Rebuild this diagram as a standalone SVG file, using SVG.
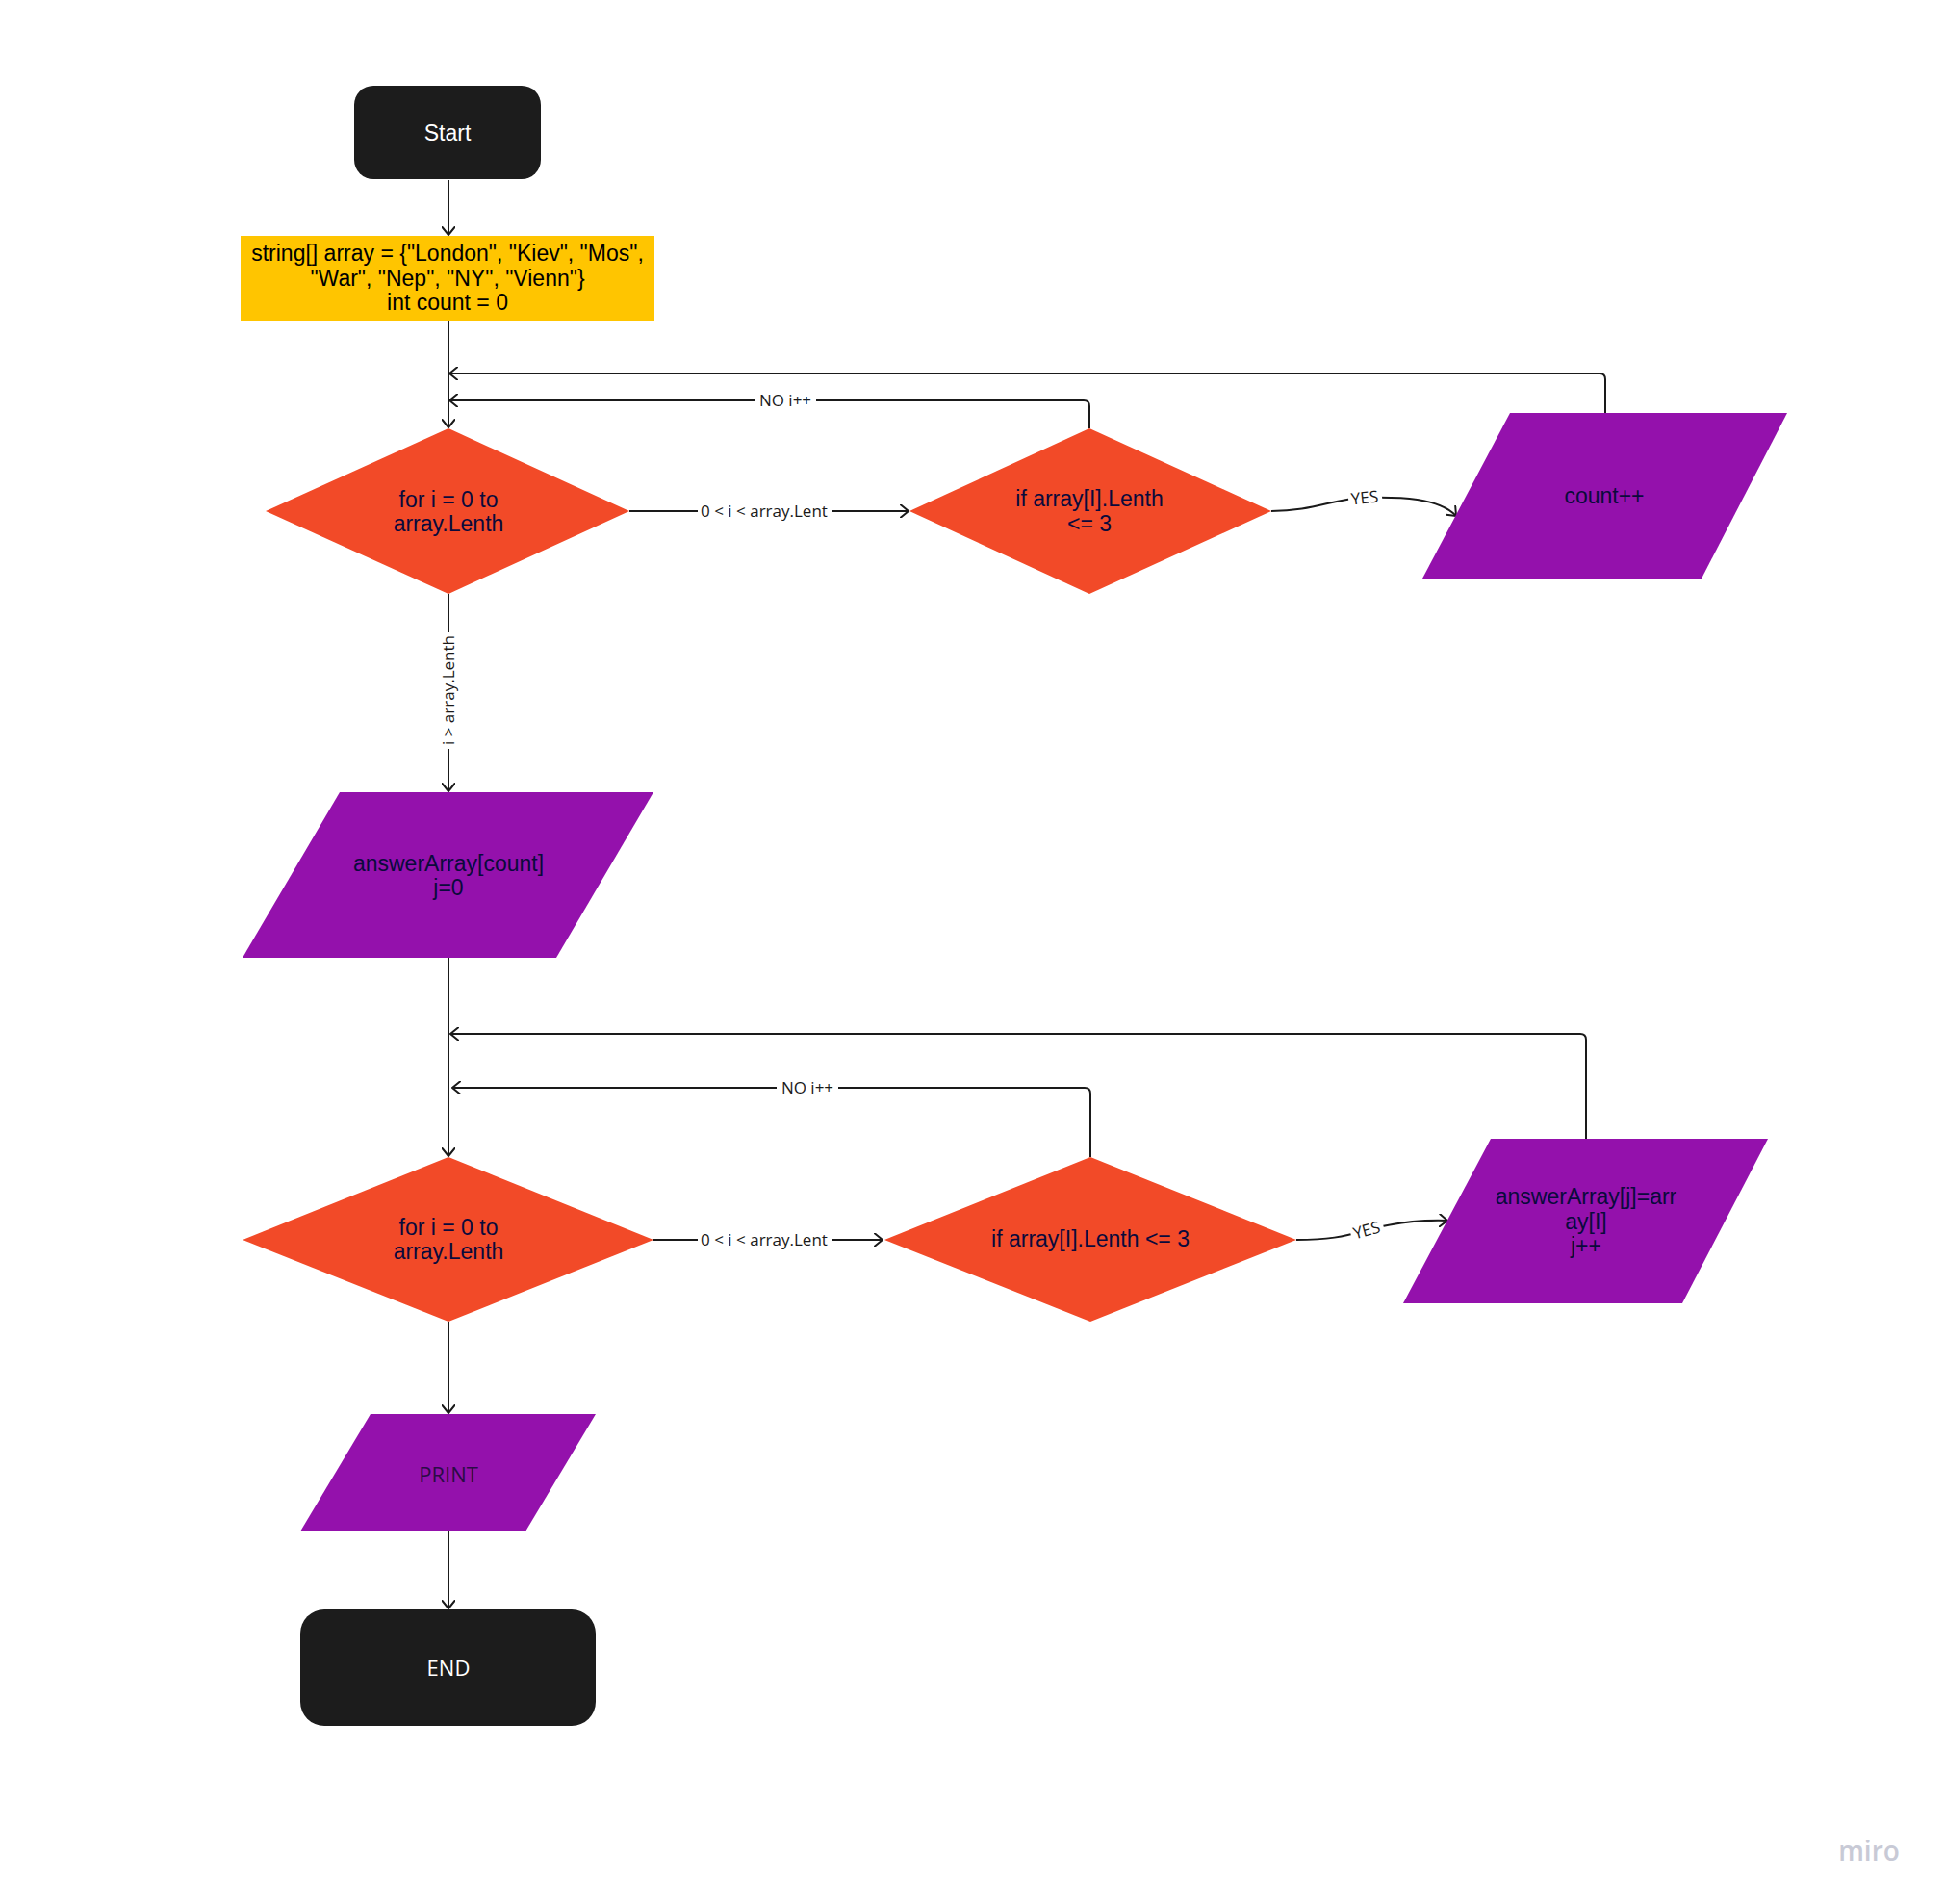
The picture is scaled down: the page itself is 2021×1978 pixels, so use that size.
<svg xmlns="http://www.w3.org/2000/svg" width="2021" height="1978" viewBox="0 0 2021 1978">
  <style>
    .lbl { font-family: "Liberation Sans", Arial, sans-serif; font-size: 23px; text-anchor: middle; fill: #0a0a3c; }
    .lblw { font-family: "Liberation Sans", Arial, sans-serif; font-size: 23px; text-anchor: middle; fill: #ffffff; }
    .os { font-family: "Open Sans", "Noto Sans", sans-serif; font-size: 22px; text-anchor: middle; }
    .edge { fill: none; stroke: #1a1a1a; stroke-width: 2; }
    .arrow { marker-end: url(#chev); }
    .elbl { font-family: "Open Sans", "Noto Sans", sans-serif; font-size: 17px; text-anchor: middle; fill: #1a1a1a; }
    .bg { fill: #ffffff; }
    .term { fill: #1c1c1c; }
    .dec { fill: #f24a28; }
    .io { fill: #9411ac; }
    .proc { fill: #ffc500; }
  </style>
  <defs>
    <marker id="chev" viewBox="0 0 10 14" refX="9" refY="7" markerWidth="10" markerHeight="14" markerUnits="userSpaceOnUse" orient="auto">
      <path d="M1,0.5 L9,7 L1,13.5" fill="none" stroke="#1a1a1a" stroke-width="2" stroke-linecap="round" stroke-linejoin="round"/>
    </marker>
  </defs>

  <rect width="2021" height="1978" fill="#ffffff"/>

  <!-- connectors -->
  <g id="connectors">
    <path class="edge arrow" d="M466,187 V244"/>
    <path class="edge arrow" d="M466,333 V444"/>

    <!-- first loop: test element -->
    <path class="edge arrow" d="M654,531 H944"/>
    <rect class="bg" x="725" y="520" width="139" height="22"/>
    <text class="elbl" x="794" y="537">0 &lt; i &lt; array.Lent</text>

    <path class="edge arrow" d="M1321,531 C1365,531 1385,518 1418,517 C1455,516 1495,517 1513,536"/>
    <rect class="bg" x="1401" y="507" width="35" height="20" transform="rotate(-6 1418 517)"/>
    <text class="elbl" x="1418" y="523" transform="rotate(-6 1418 517)">YES</text>

    <path class="edge arrow" d="M1668,429 V394 Q1668,388 1662,388 H467"/>
    <path class="edge arrow" d="M1132,445 V422 Q1132,416 1126,416 H467"/>
    <rect class="bg" x="784" y="405" width="64" height="22"/>
    <text class="elbl" x="816" y="422">NO i++</text>

    <!-- exit of first loop -->
    <path class="edge arrow" d="M466,617 V822"/>
    <rect class="bg" x="455" y="657" width="22" height="121"/>
    <text class="elbl" transform="translate(466 717) rotate(-90)" x="0" y="6">i &gt; array.Lenth</text>

    <path class="edge arrow" d="M466,995 V1201"/>

    <!-- second loop: copy element -->
    <path class="edge arrow" d="M679,1288 H917"/>
    <rect class="bg" x="725" y="1277" width="139" height="22"/>
    <text class="elbl" x="794" y="1294">0 &lt; i &lt; array.Lent</text>

    <path class="edge arrow" d="M1347,1288 C1380,1288 1395,1285 1420,1278 C1445,1271 1475,1267 1504,1268"/>
    <rect class="bg" x="1403" y="1268" width="35" height="20" transform="rotate(-15 1420 1278)"/>
    <text class="elbl" x="1420" y="1284" transform="rotate(-15 1420 1278)">YES</text>

    <path class="edge arrow" d="M1648,1183 V1080 Q1648,1074 1642,1074 H468"/>
    <path class="edge arrow" d="M1133,1202 V1136 Q1133,1130 1127,1130 H470"/>
    <rect class="bg" x="807" y="1119" width="64" height="22"/>
    <text class="elbl" x="839" y="1136">NO i++</text>

    <path class="edge arrow" d="M466,1373 V1468"/>
    <path class="edge arrow" d="M466,1591 V1671"/>
  </g>

  <!-- nodes -->
  <g id="start">
    <rect class="term" x="368" y="89" width="194" height="97" rx="20"/>
    <text class="lblw" x="465" y="146" style="font-weight:500">Start</text>
  </g>

  <g id="init">
    <rect class="proc" x="250" y="245" width="430" height="88"/>
    <text class="lbl" style="fill:#000000" x="465" y="271">string[] array = {"London", "Kiev", "Mos",</text>
    <text class="lbl" style="fill:#000000" x="465" y="297">"War", "Nep", "NY", "Vienn"}</text>
    <text class="lbl" style="fill:#000000" x="465" y="322">int count = 0</text>
  </g>

  <g id="loop1">
    <polygon class="dec" points="466,445 654,531 466,617 276,531"/>
    <text class="lbl" x="466" y="527">for i = 0 to</text>
    <text class="lbl" x="466" y="552">array.Lenth</text>
  </g>

  <g id="check1">
    <polygon class="dec" points="1132,445 1321,531 1132,617 945,531"/>
    <text class="lbl" x="1132" y="526">if array[I].Lenth</text>
    <text class="lbl" x="1132" y="552">&lt;= 3</text>
  </g>

  <g id="count">
    <polygon class="io" points="1569,429 1857,429 1768,601 1478,601"/>
    <text class="lbl" x="1667" y="523">count++</text>
  </g>

  <g id="alloc">
    <polygon class="io" points="353,823 679,823 578,995 252,995"/>
    <text class="lbl" x="466" y="905">answerArray[count]</text>
    <text class="lbl" x="466" y="930">j=0</text>
  </g>

  <g id="loop2">
    <polygon class="dec" points="466,1202 679,1288 466,1373 252,1288"/>
    <text class="lbl" x="466" y="1283">for i = 0 to</text>
    <text class="lbl" x="466" y="1308">array.Lenth</text>
  </g>

  <g id="check2">
    <polygon class="dec" points="1133,1202 1347,1288 1133,1373 919,1288"/>
    <text class="lbl" x="1133" y="1295">if array[I].Lenth &lt;= 3</text>
  </g>

  <g id="copy">
    <polygon class="io" points="1549,1183 1837,1183 1748,1354 1458,1354"/>
    <text class="lbl" x="1648" y="1251">answerArray[j]=arr</text>
    <text class="lbl" x="1648" y="1277">ay[I]</text>
    <text class="lbl" x="1648" y="1302">j++</text>
  </g>

  <g id="print">
    <polygon class="io" points="385,1469 619,1469 546,1591 312,1591"/>
    <text class="os" style="fill:#2a0c45" x="466" y="1540">PRINT</text>
  </g>

  <g id="end">
    <rect class="term" x="312" y="1672" width="307" height="121" rx="25"/>
    <text class="os" style="fill:#ffffff" x="466" y="1741">END</text>
  </g>

  <text x="1942" y="1933" style="font-family:'Open Sans','Noto Sans',sans-serif;font-size:28px;font-weight:600;fill:#c8cad6;text-anchor:middle">miro</text>
</svg>
